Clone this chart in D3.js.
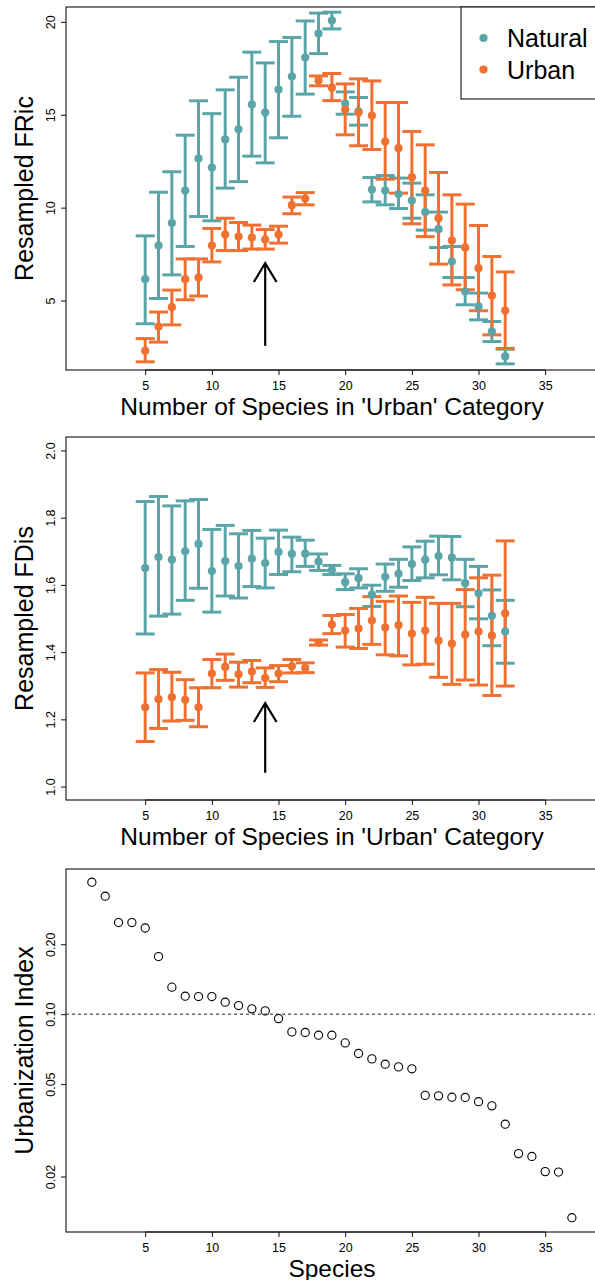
<!DOCTYPE html>
<html>
<head>
<meta charset="utf-8">
<script src="https://cdn.jsdelivr.net/npm/d3@7"></script>
<style>
  html, body { margin: 0; padding: 0; background: #fff; }
  svg { display: block; }
  text { font-family: "Liberation Sans", Arial, Helvetica, sans-serif; fill: #000; }
</style>
</head>
<body>
<svg id="chart" width="595" height="1280"></svg>
<script>
// Number of species placed in the 'Urban' category
const urbanCounts = [5,6,7,8,9,10,11,12,13,14,15,16,17,18,19,20,21,22,23,24,25,26,27,28,29,30,31,32];

// Resampled functional richness (FRic): mean and interval per count
const fricNaturalMean = [6.15,7.96,9.17,10.92,12.64,12.16,13.67,14.22,15.55,15.12,16.36,17.06,18.08,19.37,20.07,15.60,15.18,10.97,10.92,10.73,10.38,9.76,8.84,7.10,5.48,4.68,3.33,1.99];
const fricNaturalLow  = [3.75,5.11,6.38,7.91,9.52,9.29,11.05,11.40,12.77,12.41,13.76,14.92,16.11,18.29,19.62,15.03,14.44,10.31,10.15,9.95,9.43,8.79,7.85,6.24,4.77,3.96,2.79,1.59];
const fricNaturalHigh = [8.48,10.83,11.93,13.90,15.75,15.06,16.34,17.02,18.37,17.79,18.94,19.16,20.05,20.47,20.52,16.23,15.93,11.62,11.73,11.59,11.32,10.69,9.76,7.91,6.24,5.40,3.87,2.38];
const fricUrbanMean = [2.29,3.60,4.64,6.15,6.24,7.96,8.55,8.44,8.39,8.28,8.55,10.13,10.49,16.84,16.46,15.28,15.12,14.96,13.56,13.20,11.64,10.92,9.43,8.23,7.85,6.74,5.27,4.46];
const fricUrbanLow  = [1.70,2.76,3.69,5.04,5.24,7.08,7.69,7.69,7.77,7.77,8.09,9.67,10.15,16.56,15.76,13.92,13.33,13.13,11.53,10.78,9.13,8.44,6.96,5.84,5.58,4.45,3.15,2.42];
const fricUrbanHigh = [2.95,4.38,5.56,7.24,7.24,8.88,9.43,9.20,9.06,8.82,9.00,10.57,10.81,17.09,17.22,16.66,16.93,16.82,15.66,15.66,14.10,13.38,11.89,10.69,10.19,9.04,7.37,6.54];

// Resampled functional dispersion (FDis): mean and interval per count
const fdisNaturalMean = [1.650,1.683,1.675,1.700,1.722,1.641,1.671,1.656,1.678,1.665,1.698,1.692,1.693,1.669,1.644,1.608,1.620,1.571,1.624,1.633,1.662,1.675,1.686,1.681,1.605,1.575,1.508,1.461];
const fdisNaturalLow  = [1.454,1.507,1.513,1.554,1.590,1.519,1.567,1.561,1.595,1.591,1.631,1.639,1.655,1.643,1.631,1.586,1.591,1.536,1.581,1.593,1.613,1.621,1.630,1.615,1.535,1.499,1.419,1.367];
const fdisNaturalHigh = [1.848,1.863,1.835,1.850,1.854,1.765,1.777,1.752,1.762,1.739,1.763,1.742,1.733,1.692,1.658,1.633,1.648,1.599,1.662,1.676,1.713,1.730,1.745,1.744,1.676,1.655,1.585,1.554];
const fdisUrbanMean = [1.236,1.260,1.266,1.258,1.236,1.336,1.356,1.334,1.342,1.323,1.336,1.358,1.353,1.428,1.482,1.464,1.470,1.494,1.473,1.480,1.455,1.464,1.434,1.425,1.452,1.461,1.449,1.515];
const fdisUrbanLow  = [1.134,1.173,1.195,1.197,1.178,1.294,1.316,1.296,1.309,1.295,1.312,1.338,1.339,1.421,1.455,1.415,1.411,1.423,1.392,1.389,1.362,1.364,1.325,1.304,1.317,1.302,1.271,1.299];
const fdisUrbanHigh = [1.338,1.348,1.340,1.318,1.294,1.378,1.394,1.370,1.375,1.353,1.360,1.378,1.368,1.436,1.509,1.512,1.530,1.565,1.551,1.567,1.548,1.563,1.545,1.545,1.586,1.621,1.629,1.731];

// Urbanization index of each species, ranked
const speciesRank = [1,2,3,4,5,6,7,8,9,10,11,12,13,14,15,16,17,18,19,20,21,22,23,24,25,26,27,28,29,30,31,32,33,34,35,36,37];
const urbanizationIndex = [0.370,0.322,0.248,0.248,0.235,0.177,0.1307,0.1195,0.1191,0.1191,0.1126,0.1089,0.1054,0.1033,0.0957,0.0839,0.0834,0.0812,0.0812,0.0752,0.0677,0.0642,0.0609,0.0593,0.0582,0.0447,0.0445,0.0439,0.0438,0.0420,0.0403,0.0336,0.0251,0.0244,0.0210,0.0209,0.0133];
const urbanThreshold = 0.10;

// Tick labels
const xTicks = [5,10,15,20,25,30,35];
const fricTicks = [5,10,15,20];
const fdisTicks = [1.0,1.2,1.4,1.6,1.8,2.0];
const indexTicks = [0.02,0.05,0.10,0.20];

// Reference arrow at 14 urban species
const arrowAt = 14;
const fricArrow = [2.56, 7.01];
const fdisArrow = [1.041, 1.248];

const seriesNames = ["Natural", "Urban"];
const colors = { Natural: "#5ba5a8", Urban: "#ee7132" };

const svg = d3.select("#chart");
const left = 66, right = 598;
const x = d3.scaleLinear().domain([-0.94, 38.96]).range([left, right]);

function frame(top, bottom) {
  svg.append("rect")
    .attr("x", left).attr("y", top)
    .attr("width", right - left).attr("height", bottom - top)
    .attr("fill", "none").attr("stroke", "#111").attr("stroke-width", 1.1);
}

function axes(y, top, bottom, yTicks, yFormat, yTitle, xTitle) {
  const gx = svg.append("g").attr("transform", `translate(0,${bottom})`)
    .call(d3.axisBottom(x).tickValues(xTicks).tickSize(5).tickPadding(5).tickFormat(d3.format("d")));
  gx.select(".domain").attr("d", `M${x(xTicks[0])},0H${x(xTicks[xTicks.length-1])}`).attr("stroke", "#111");
  gx.selectAll(".tick line").attr("stroke", "#111");
  gx.selectAll(".tick text").attr("font-size", 12.5).attr("dy", null).attr("y", 19.5)
    .attr("font-family", "Liberation Sans, Arial, sans-serif").attr("fill", "#111");

  const gy = svg.append("g").attr("transform", `translate(${left},0)`)
    .call(d3.axisLeft(y).tickValues(yTicks).tickSize(5).tickFormat(yFormat));
  gy.select(".domain").remove();
  gy.selectAll(".tick line").attr("stroke", "#111");
  gy.selectAll(".tick text")
    .attr("x", null).attr("dy", null)
    .attr("transform", "translate(-11,0) rotate(-90)")
    .attr("text-anchor", "middle")
    .attr("font-size", 12.5)
    .attr("font-family", "Liberation Sans, Arial, sans-serif").attr("fill", "#111");

  svg.append("text")
    .attr("transform", `translate(${left - 33},${(top + bottom) / 2}) rotate(-90)`)
    .attr("text-anchor", "middle").attr("font-size", 25).text(yTitle);
  svg.append("text")
    .attr("x", (left + right) / 2).attr("y", bottom + 44.5)
    .attr("text-anchor", "middle").attr("font-size", 24.5).text(xTitle);
}

function errorPanel(top, bottom, yDomain, yTicks, yFormat, yTitle, series, arrow) {
  const y = d3.scaleLinear().domain(yDomain).range([bottom, top]);
  frame(top, bottom);
  axes(y, top, bottom, yTicks, yFormat, yTitle, "Number of Species in 'Urban' Category");

  const cap = 9.5;
  // whiskers first (Natural below Urban), then the points on top
  series.forEach(s => {
    const g = svg.append("g").attr("stroke", colors[s.name]).attr("stroke-width", 3).attr("fill", "none");
    urbanCounts.forEach((c, i) => {
      const cx = x(c), y0 = y(s.low[i]), y1 = y(s.high[i]);
      g.append("line").attr("x1", cx).attr("x2", cx).attr("y1", y0).attr("y2", y1);
      g.append("line").attr("x1", cx - cap).attr("x2", cx + cap).attr("y1", y0).attr("y2", y0);
      g.append("line").attr("x1", cx - cap).attr("x2", cx + cap).attr("y1", y1).attr("y2", y1);
    });
  });
  series.forEach(s => {
    svg.append("g").selectAll("circle").data(s.mean).join("circle")
      .attr("cx", (d, i) => x(urbanCounts[i])).attr("cy", d => y(d))
      .attr("r", 4.1).attr("fill", colors[s.name]);
  });

  // arrow marking 14 species
  const ax = x(arrowAt), yb = y(arrow[0]), yt = y(arrow[1]);
  const len = 22, ang = 31 * Math.PI / 180;
  const ga = svg.append("g").attr("stroke", "#000").attr("stroke-width", 2.2).attr("fill", "none");
  ga.append("line").attr("x1", ax).attr("x2", ax).attr("y1", yb).attr("y2", yt);
  ga.append("path").attr("d",
    `M${ax - len * Math.sin(ang)},${yt + len * Math.cos(ang)}L${ax},${yt}L${ax + len * Math.sin(ang)},${yt + len * Math.cos(ang)}`);
  return y;
}

// Panel 1: FRic
errorPanel(7, 370, [1.26, 20.8], fricTicks, d3.format("d"), "Resampled FRic", [
  { name: "Natural", mean: fricNaturalMean, low: fricNaturalLow, high: fricNaturalHigh },
  { name: "Urban", mean: fricUrbanMean, low: fricUrbanLow, high: fricUrbanHigh }
], fricArrow);

// legend
const lg = svg.append("g");
lg.append("rect").attr("x", 461).attr("y", 7).attr("width", right - 461).attr("height", 92)
  .attr("fill", "#fff").attr("stroke", "#111").attr("stroke-width", 1.1);
seriesNames.forEach((n, i) => {
  const cy = 38 + i * 31.5;
  lg.append("circle").attr("cx", 483.5).attr("cy", cy).attr("r", 4.1).attr("fill", colors[n]);
  lg.append("text").attr("x", 507).attr("y", cy).attr("dy", "0.36em").attr("font-size", 25).text(n);
});

// Panel 2: FDis
errorPanel(437, 800, [0.96, 2.04], fdisTicks, d3.format(".1f"), "Resampled FDis", [
  { name: "Natural", mean: fdisNaturalMean, low: fdisNaturalLow, high: fdisNaturalHigh },
  { name: "Urban", mean: fdisUrbanMean, low: fdisUrbanLow, high: fdisUrbanHigh }
], fdisArrow);

// Panel 3: urbanization index by species (log scale)
(function () {
  const top = 869, bottom = 1232;
  const y = d3.scaleLog().domain([0.01154, 0.4217]).range([bottom, top]);
  frame(top, bottom);
  axes(y, top, bottom, indexTicks, d3.format(".2f"), "Urbanization Index", "Species");
  svg.append("line")
    .attr("x1", left).attr("x2", right)
    .attr("y1", y(urbanThreshold)).attr("y2", y(urbanThreshold))
    .attr("stroke", "#222").attr("stroke-width", 1).attr("stroke-dasharray", "3,3");
  svg.append("g").selectAll("circle").data(urbanizationIndex).join("circle")
    .attr("cx", (d, i) => x(speciesRank[i])).attr("cy", d => y(d))
    .attr("r", 4.1).attr("fill", "none").attr("stroke", "#000").attr("stroke-width", 1.1);
})();
</script>
</body>
</html>
